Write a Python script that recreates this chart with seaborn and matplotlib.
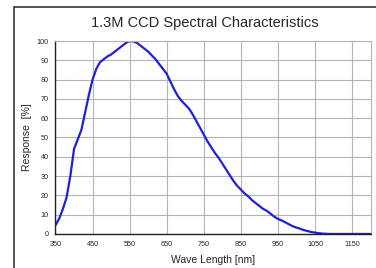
import pandas as pd
import matplotlib.pyplot as plt
import seaborn as sns
from matplotlib.patches import Rectangle

# 파장 [nm] / 응답 [%]
wavelength = [350, 360, 370, 380, 390, 400, 410, 420, 430, 440,
              450, 460, 470, 480, 490, 500, 510, 520, 530, 540,
              550, 560, 570, 580, 590, 600, 610, 620, 630, 640,
              650, 660, 670, 680, 690, 700, 710, 720, 730, 740,
              750, 760, 770, 780, 790, 800, 810, 820, 830, 840,
              850, 860, 870, 880, 890, 900, 910, 920, 930, 940,
              950, 960, 970, 980, 990, 1000, 1010, 1020, 1030, 1040,
              1050, 1060, 1070, 1080, 1090, 1100, 1150, 1200]
response = [4.5, 8, 13, 19, 30, 44, 49, 54, 63, 72,
            80, 85.5, 89, 90.5, 92, 93, 94.5, 96, 97.5, 99,
            100, 99.8, 99, 97.5, 96, 94.5, 92.5, 90.5, 88, 85.5,
            83, 79, 75, 71.5, 69, 67, 65, 62, 58.5, 55,
            51.5, 48, 45, 42, 39.5, 36.5, 33.5, 30.5, 27.5, 25,
            23, 21, 19.5, 17.5, 16, 14.5, 13, 12, 10.5, 9,
            7.8, 7, 6, 5, 4, 3.3, 2.7, 2, 1.5, 1,
            0.7, 0.4, 0.2, 0.1, 0, 0, 0, 0]

x_ticks = [350, 450, 550, 650, 750, 850, 950, 1050, 1150]
y_ticks = list(range(0, 101, 10))

df = pd.DataFrame({'wl': wavelength, 'resp': response})

sns.set_style('white')
plt.rcParams['font.family'] = ['Liberation Sans', 'DejaVu Sans']

fig = plt.figure(figsize=(3.76, 2.68), dpi=100)
ax = fig.add_axes([0.1476, 0.127, 0.838, 0.72])

# 바깥 테두리
fig.patches.append(Rectangle((14 / 376, -0.05), 1.0, 1 - 7 / 268 + 0.05,
                             transform=fig.transFigure, fill=False,
                             edgecolor='#333333', linewidth=1.2))

sns.lineplot(data=df, x='wl', y='resp', ax=ax, color='#1f1fdc', linewidth=1.6)

ax.set_xlim(350, 1200)
ax.set_ylim(0, 100)
ax.set_xticks(x_ticks)
ax.set_yticks(y_ticks)
ax.grid(True, color='#b4b4b4', linewidth=0.8)
ax.tick_params(axis='both', labelsize=5.2, length=2, direction='out', pad=3,
               color='#333333')
for s in ['top', 'right']:
    ax.spines[s].set_color('#b4b4b4')
    ax.spines[s].set_linewidth(0.8)
for s in ['left', 'bottom']:
    ax.spines[s].set_color('#222222')
    ax.spines[s].set_linewidth(1.0)

ax.set_xlabel('Wave Length [nm]', fontsize=7.5, labelpad=5)
ax.set_ylabel('Response  [%]', fontsize=7.5, labelpad=3)
fig.text(0.545, 0.913, '1.3M CCD Spectral Characteristics', ha='center',
         va='center', fontsize=10.5)

fig.savefig('out.png', dpi=100)
